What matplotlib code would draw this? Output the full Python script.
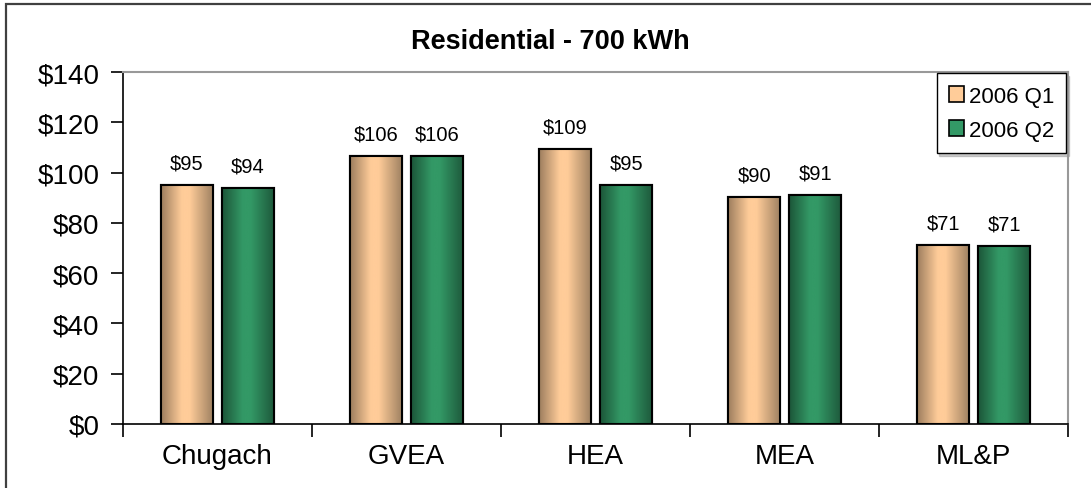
import numpy as np
import matplotlib.pyplot as plt
from matplotlib.colors import LinearSegmentedColormap
from matplotlib.patches import Rectangle

plt.rcParams['font.family'] = ['Liberation Sans', 'DejaVu Sans']

companies = ['Chugach', 'GVEA', 'HEA', 'MEA', 'ML&P']
q1_values = [95.2, 106.4, 109.2, 90.3, 71.0]
q2_values = [93.8, 106.4, 95.0, 91.2, 70.6]
series_names = ['2006 Q1', '2006 Q2']

q1_color = '#FFCC99'
q2_color = '#339966'

fig = plt.figure(figsize=(10.91, 4.89), dpi=100)
ax = fig.add_axes([0.1127, 0.1309, 0.8665, 0.7198])

# outer chart border
fig.patches.append(Rectangle((6 / 1091, -0.01), 1.2, 484 / 489 + 0.01,
                             transform=fig.transFigure, fill=False,
                             edgecolor='#404040', linewidth=1.6))

x = np.arange(len(companies))
width = 0.275
offset = 0.161

b1 = ax.bar(x - offset, q1_values, width, color=q1_color, edgecolor='black',
            linewidth=1.5, label=series_names[0], zorder=3)
b2 = ax.bar(x + offset, q2_values, width, color=q2_color, edgecolor='black',
            linewidth=1.5, label=series_names[1], zorder=3)

# horizontal shading inside bars
grad = np.linspace(0, 1, 256).reshape(1, -1)
cm1 = LinearSegmentedColormap.from_list('q1', [(0, '#9C7D5E'), (0.4, '#FFCC99'),
                                               (0.55, '#FFCC99'), (1, '#A08262')])
cm2 = LinearSegmentedColormap.from_list('q2', [(0, '#1C5538'), (0.4, '#339966'),
                                               (0.55, '#339966'), (1, '#1E5A3C')])
for bars, cm in ((b1, cm1), (b2, cm2)):
    for p in bars:
        x0 = p.get_x()
        im = ax.imshow(grad, cmap=cm, extent=[x0, x0 + p.get_width(), 0, p.get_height()],
                       aspect='auto', zorder=3.5, interpolation='bicubic')
        im.set_clip_path(p)
    for p in bars:
        ax.add_patch(Rectangle((p.get_x(), 0), p.get_width(), p.get_height(),
                               fill=False, edgecolor='black', linewidth=1.5, zorder=4))

for bars, vals in ((b1, q1_values), (b2, q2_values)):
    for p, v in zip(bars, vals):
        ax.text(p.get_x() + p.get_width() / 2, v + 5, f'${v:.0f}', ha='center',
                va='bottom', fontsize=14.5, zorder=5)

ax.set_xlim(-0.5, len(companies) - 0.5)
ax.set_ylim(0, 140)
ax.set_yticks(np.arange(0, 141, 20))
ax.set_yticklabels([f'${v}' for v in range(0, 141, 20)], fontsize=20)
ax.set_xticks(x)
ax.set_xticklabels(companies, fontsize=20)
ax.tick_params(axis='x', length=0, pad=14)
ax.set_xticks(np.arange(-0.5, len(companies)), minor=True)
ax.tick_params(axis='x', which='minor', length=9, width=1.2, color='black', direction='out')
ax.tick_params(axis='y', length=9, width=1.2, direction='out', pad=8)

for s in ('left', 'bottom'):
    ax.spines[s].set_color('black')
    ax.spines[s].set_linewidth(1.2)
for s in ('top', 'right'):
    ax.spines[s].set_color('#999999')
    ax.spines[s].set_linewidth(1.5)

fig.text(0.504, 0.914, 'Residential - 700 kWh', ha='center', va='center',
         fontsize=19.5, fontweight='bold')

# legend with drop shadow
leg = ax.legend(loc='upper right', bbox_to_anchor=(0.998, 0.996), fontsize=16,
                frameon=True, fancybox=False, shadow={'color': '#999999'},
                handlelength=0.7, handleheight=0.7, handletextpad=0.2,
                borderpad=0.55, labelspacing=0.6, borderaxespad=0.0)
leg.get_frame().set_edgecolor('black')
leg.get_frame().set_linewidth(1.0)
for h in leg.legend_handles:
    h.set_edgecolor('black')
    h.set_linewidth(1.2)

fig.savefig('out.png', dpi=100)
